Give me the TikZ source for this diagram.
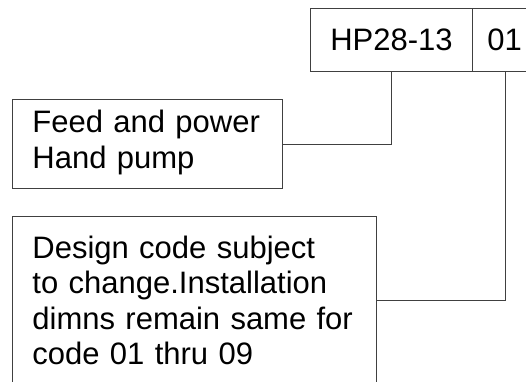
\documentclass[tikz,border=0pt]{standalone}
\usepackage{fontspec}
\setmainfont{Liberation Sans}

\begin{document}
\begin{tikzpicture}[-,x=1pt,y=1pt,thick,line width=0.9pt,code box/.style={draw=black!75,rectangle,minimum height=63pt,inner sep=0pt,font=\fontsize{31}{35.6}\selectfont},text box/.style={draw=black!75,rectangle,anchor=north west,inner xsep=20pt,align=left,font=\fontsize{31}{35.6}\selectfont}]

            \useasboundingbox (0,0) rectangle (526,-381);
            \clip (0,0) rectangle (526,-381);

            \node[code box, anchor=north west, minimum width=162pt] (1) at (310,-8) {HP28-13};
            \node[code box, anchor=north west, minimum width=80pt, text width=50pt, inner xsep=15pt, align=left] (2) at (472,-8) {01};
            \node[text box, minimum width=270pt, minimum height=89pt, text width=230pt, yshift=0pt] (3) at (12,-99) {Feed and power\\Hand pump\rule[-9pt]{0pt}{0pt}};
            \node[text box, minimum width=364pt, minimum height=168pt, text width=324pt] (4) at (12,-216) {Design code subject\\to change.Installation\\dimns remain same for\\code 01 thru 09};

            \draw[-,black!75] (1.south) |- (3.east);
            \draw[-,black!75] ([xshift=-7pt]2.south) |- (4.east);

            ;
        \end{tikzpicture}
\end{document}
